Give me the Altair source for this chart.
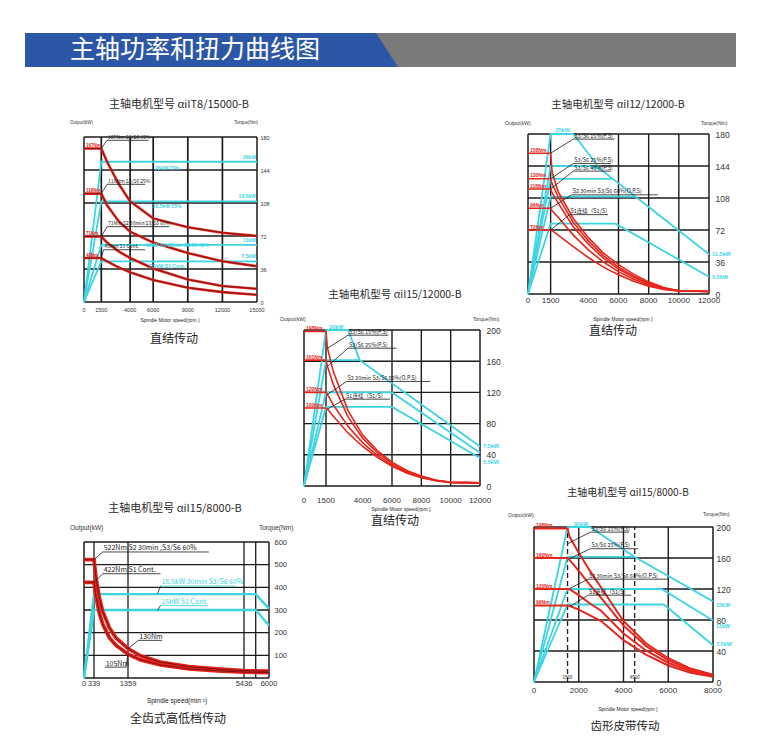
import altair as alt
import pandas as pd

CYAN = "#3cd4e3"
RED = "#e4261d"
DARK_RED = "#7e1010"
INK = "#1b1b1b"
LABEL_C = "#333333"
LATIN = "Liberation Sans"
CJK = "Noto Sans CJK SC"

# ---------------- header ----------------
HEADER_TEXT = "主轴功率和扭力曲线图"
HEADER_BLUE_X = [0, 351, 373]
HEADER_BLUE_TOP = [34, 34, 0]
HEADER_GRAY = [340, 711]

# ---------------- panel 1 : aiIT8/15000-B ----------------
P1_TITLE = "主轴电机型号 αiIT8/15000-B"
P1_CAPTION = "直结传动"
P1_XTITLE = "Spindle Motor speed(rpm )"
P1_XTICKS = [0, 1500, 4000, 6000, 9000, 12000, 15000]
P1_YTICKS = [0, 6, 12, 18, 24, 30]
P1_TTICKS = [0, 36, 72, 108, 144, 180]
P1_XGRID = [1500, 4000, 6000, 9000, 12000]
P1_YGRID = [6, 12, 18, 24]
P1_RED_SPEED = [0, 1500, 2000, 3000, 4000, 6000, 9000, 12000, 15000]
P1_RED = [
    [27.9, 27.9, 25.5, 21.5, 18.3, 15.2, 13.6, 12.6, 12.0],
    [19.7, 19.7, 17.6, 14.7, 12.8, 10.8, 8.9, 7.4, 6.5],
    [11.9, 11.9, 10.8, 9.2, 8.0, 6.1, 4.1, 2.9, 2.4],
    [8.0, 8.0, 7.4, 6.3, 5.4, 4.0, 2.6, 1.8, 1.3],
]
P1_RED_TAGS = ["167Nm", "118Nm", "71Nm", "48Nm"]
P1_CYAN_SPEED = [[0, 1500, 15000], [0, 1500, 15000], [0, 1500, 15000], [0, 1500, 15000]]
P1_CYAN = [[0, 25.5, 25.5], [0, 18.3, 18.3], [0, 10.4, 10.4], [0, 7.4, 7.4]]
P1_CYAN_LABELS = [
    (14900, 26.4, "26kW", "right"), (14900, 19.2, "18.5kW", "right"),
    (14900, 11.3, "11kW", "right"), (14900, 8.3, "7.5kW", "right"),
    (7200, 24.4, "26kW 15%", "center"), (7200, 17.4, "18.5kW 25%", "center"),
    (8100, 10.4, "11kW S2 30min S3/S6 60%", "center"), (7200, 6.6, "7.5kW S1 Cont.", "center"),
]
P1_ANN = [
    (1500, 27.9, 2000, 29.4, 2000, 5600, "167Nm S3/S6 15%", INK),
    (1500, 19.7, 2000, 21.4, 2000, 5300, "118Nm S3/S6 25%", INK),
    (1500, 11.9, 2000, 13.7, 2000, 7400, "71Nm S2 30min S3/S6 60%", INK),
    (1500, 8.0, 1700, 9.5, 1700, 5300, "48Nm S1 Cont.", INK),
]

# ---------------- panel 2 : aiI12/12000-B ----------------
P2_TITLE = "主轴电机型号 αiI12/12000-B"
P2_CAPTION = "直结传动"
P2_XTICKS = [0, 1500, 4000, 6000, 8000, 10000, 12000]
P2_YTICKS = [0, 5, 10, 15, 20, 25]
P2_TTICKS = [0, 36, 72, 108, 144, 180]
P2_XGRID = [1500, 6000, 8000, 10000]
P2_YGRID = [5, 10, 15, 20]
P2_RED_SPEED = [0, 1500, 1600, 2000, 3000, 4000, 5000, 6000, 7000, 8000, 9000, 10000, 12000]
P2_RED = [
    [22, 22, 19.0, 16.0, 11.8, 8.8, 6.4, 4.6, 3.1, 1.9, 1.0, 0.5, 0.4],
    [18, 18, 17.2, 15.2, 11.2, 8.3, 6.0, 4.2, 2.8, 1.7, 0.9, 0.5, 0.4],
    [16.4, 16.4, 15.8, 14.2, 10.5, 7.8, 5.6, 3.9, 2.6, 1.6, 0.9, 0.5, 0.4],
    [13.4, 13.4, 13.0, 12.0, 9.2, 6.9, 5.0, 3.5, 2.3, 1.4, 0.8, 0.5, 0.4],
    [10, 10, 9.9, 9.2, 7.4, 5.7, 4.2, 3.0, 2.0, 1.2, 0.7, 0.45, 0.4],
]
P2_RED_TAGS = ["158Nm", "130Nm", "118Nm", "96Nm", "72Nm"]
P2_CYAN_SPEED = [[0, 1500, 3000, 4800, 12000], [0, 1500, 4000, 4800], [0, 1500, 5600],
                 [0, 1500, 7100], [0, 1500, 5800, 12000]]
P2_CYAN = [[0, 25, 25, 19.5, 6.2], [0, 20, 20, 19.5], [0, 18, 18],
           [0, 15.2, 15.2], [0, 11, 11, 2.7]]
P2_CYAN_LABELS = [(12000, 6.2, "11.5kW", "left"), (12000, 2.7, "5.5kW", "left"),
                  (2300, 25.6, "25kW", "center")]
P2_ANN = [
    (1500, 22, 3000, 24.2, 3000, 5750, "S3/S6 15%(P.S)", INK),
    (1500, 18, 3000, 20.4, 3000, 5500, "S3/S6 25%(P.S)", INK),
    (1500, 16.4, 3000, 19.2, 3000, 5500, "S3/S6 40%(P.S)", INK),
    (1500, 13.4, 2900, 15.5, 2900, 8600, "S2 30min S3/S6 60%(O.P.S)", INK),
    (1500, 10, 2750, 12.4, 2750, 5300, "S1连续（S1/S）", INK),
]

# ---------------- panel 3 : aiI15/12000-B ----------------
P3_TITLE = "主轴电机型号 αiI15/12000-B"
P3_CAPTION = "直结传动"
P3_XTICKS = [0, 1500, 4000, 6000, 8000, 10000, 12000]
P3_YTICKS = [0, 6, 12, 18, 24, 30]
P3_TTICKS = [0, 40, 80, 120, 160, 200]
P3_XGRID = [1500, 6000, 8000, 10000]
P3_YGRID = [6, 12, 18, 24]
P3_RED_SPEED = [0, 1500, 1600, 2000, 3000, 4000, 5000, 6000, 7000, 8000, 9000, 10000, 12000]
P3_RED = [
    [29.7, 29.7, 26.5, 22.0, 14.5, 9.8, 6.8, 4.6, 3.0, 1.9, 1.1, 0.7, 0.6],
    [24.2, 24.2, 23.0, 19.5, 13.3, 9.2, 6.4, 4.3, 2.8, 1.8, 1.1, 0.7, 0.6],
    [18, 18, 17.6, 15.6, 11.5, 8.3, 5.9, 4.0, 2.6, 1.7, 1.0, 0.7, 0.6],
    [15, 15, 14.8, 13.4, 10.2, 7.6, 5.5, 3.8, 2.5, 1.6, 1.0, 0.7, 0.6],
]
P3_RED_TAGS = ["198Nm", "161Nm", "120Nm", "100Nm"]
P3_CYAN_SPEED = [[0, 1500, 3000, 3800, 12000], [0, 1500, 3800], [0, 1500, 6000, 12000],
                 [0, 1500, 6000, 12000]]
P3_CYAN = [[0, 30, 30, 24.2, 7.6], [0, 24.2, 24.2], [0, 18, 18, 6.4], [0, 15.2, 15.2, 5.4]]
P3_CYAN_LABELS = [(12000, 7.6, "7.5kW", "left"), (12000, 4.7, "5.5kW", "left"),
                  (2200, 30.6, "30kW", "center")]
P3_ANN = [
    (1600, 26.5, 3000, 29.0, 3000, 5750, "S3/S6 15%(P.S)", INK),
    (1600, 23.0, 3000, 26.5, 3000, 6300, "S3/S6 25%(P.S)", INK),
    (1600, 17.6, 2900, 20.1, 2900, 8600, "S2 30min S3/S6 60%(O.P.S)", INK),
    (1600, 14.8, 2800, 16.7, 2800, 5850, "S1连续（S1/S）", INK),
]

# ---------------- panel 4 : aiI15/8000-B (gear) ----------------
P4_TITLE = "主轴电机型号 αiI15/8000-B"
P4_CAPTION = "全齿式高低档传动"
P4_XTITLE = "Spindle speed(min⁻¹)"
P4_XTICKS = [0, 339, 1359, 5436, 6000]
P4_XRANGE = [0, 10, 44, 160, 185]
P4_YTICKS = [0, 5, 10, 15, 20, 25, 30]
P4_TTICKS = [100, 200, 300, 400, 500, 600]
P4_XGRID = [339, 1359, 5436, 5700]
P4_YGRID = [5, 10, 15, 20, 25]
P4_RED_SPEED = [0, 339, 400, 500, 600, 800, 1000, 1359, 1800, 2500, 3500, 4500, 5436, 6000]
P4_RED = [
    [26.1, 26.1, 22.1, 17.7, 14.7, 11.1, 8.85, 6.5, 4.9, 3.5, 2.5, 2.0, 1.6, 1.5],
    [21.1, 21.1, 17.9, 14.3, 11.9, 8.9, 7.2, 5.25, 4.0, 2.9, 2.0, 1.6, 1.3, 1.2],
]
P4_CYAN_SPEED = [[0, 339, 5700, 6000], [0, 339, 5700, 6000]]
P4_CYAN = [[0, 18.5, 18.5, 15.3], [0, 15, 15, 11.6]]
P4_ANN = [
    (339, 26.1, 600, 27.8, 600, 4200, "522Nm S2 30min ,S3/S6 60%", INK),
    (339, 21.1, 600, 23.0, 600, 2500, "422Nm S1 Cont.", INK),
    (1359, 6.5, 1720, 8.3, 1720, 2560, "130Nm", INK),
    (1359, 5.25, 1300, 2.4, 660, 1300, "105Nm", INK),
    (2400, 18.6, 2500, 20.3, 2500, 5130, "18.5kW 30min S3/S6 60%", CYAN),
    (2400, 14.9, 2500, 16.0, 2500, 4180, "15kW S1 Cont.", CYAN),
]

# ---------------- panel 5 : aiI15/8000-B (belt) ----------------
P5_TITLE = "主轴电机型号 αiI15/8000-B"
P5_CAPTION = "齿形皮带传动"
P5_XTICKS = [0, 2000, 4000, 6000, 8000]
P5_YTICKS = [0, 6, 12, 18, 24, 30]
P5_TTICKS = [0, 40, 80, 120, 160, 200]
P5_XGRID = [2000, 4000, 6000]
P5_DASH = [1500, 4500]
P5_YGRID = [6, 12, 18, 24]
P5_RED_SPEED = [0, 1500, 1600, 2000, 2500, 3000, 4000, 5000, 6000, 7000, 8000]
P5_RED = [
    [29.7, 29.7, 28.0, 25.0, 21.5, 18.3, 11.8, 7.5, 4.6, 2.6, 1.4],
    [24, 24, 23.6, 21.5, 18.8, 16.3, 10.9, 7.0, 4.2, 2.4, 1.3],
    [18, 18, 17.9, 16.8, 15.2, 13.8, 9.4, 6.1, 3.7, 2.1, 1.1],
    [14.8, 14.8, 14.7, 14.0, 12.9, 11.8, 8.1, 5.3, 3.2, 1.8, 1.0],
]
P5_RED_TAGS = ["198Nm", "160Nm", "120Nm", "99Nm"]
P5_CYAN_SPEED = [[0, 1500, 2500, 4500, 8000], [0, 1500, 4500], [0, 1500, 5700, 8000],
                 [0, 1500, 5800, 8000]]
P5_CYAN = [[0, 30, 30, 24.2, 15.6], [0, 24.2, 24.2], [0, 18, 18, 11.9], [0, 15, 15, 7.1]]
P5_CYAN_LABELS = [(8000, 15.0, "15kW", "left"), (8000, 10.8, "11kW", "left"),
                  (8000, 7.3, "7.5kW", "left"), (2100, 30.6, "30kW", "center")]
P5_ANN = [
    (1520, 26.8, 2520, 29.0, 2520, 4250, "S3/S6 15%(P.S)", INK),
    (1600, 23.9, 2520, 25.8, 2520, 4650, "S3/S6 25%(P.S)", INK),
    (1600, 18.1, 2410, 19.9, 2410, 5990, "S2 30min S3/S6 60%(O.P.S)", INK),
    (1600, 14.6, 2410, 16.8, 2410, 4350, "S1连续（S1/S）", INK),
]
P5_DASH_TAGS = [(1500, 0.8, "1500"), (4500, 0.8, "4500")]

ONE = pd.DataFrame({"k": [0]})


def curves_df(speeds, values):
    rows = []
    for cid, (xs, ys) in enumerate(zip(speeds, values)):
        for i, (x, y) in enumerate(zip(xs, ys)):
            rows.append({"id": cid, "i": i, "x": x, "y": y})
    return pd.DataFrame(rows)


def fixed_text(text, px, py, size, align="center", font=LATIN, color=LABEL_C, weight="normal"):
    return alt.Chart(ONE).mark_text(text=text, fontSize=size, align=align, baseline="middle",
                                    font=font, color=color, fontWeight=weight).encode(
        x=alt.value(px), y=alt.value(py))


def panel(p):
    W, H = p["W"], p["H"]
    el, et = p.get("ext_left", 0), p.get("ext_top", 0)
    x_lo, x_hi = p["xdom"][0], p["xdom"][-1]
    ymax, tmax = p["ymax"], p["tmax"]
    if p.get("xrange"):
        sx = alt.Scale(domain=p["xdom"], range=p["xrange"], nice=False, zero=False)
    else:
        lo = x_lo - (x_hi - x_lo) * el / W
        sx = alt.Scale(domain=[lo, x_hi], nice=False, zero=False)
    sy = alt.Scale(domain=[0, ymax * (H + et) / H], nice=False, zero=False)

    def ex(f):
        return alt.X(f + ":Q", scale=sx, axis=None)

    def ey(f):
        return alt.Y(f + ":Q", scale=sy, axis=None)

    L = []
    axis_df = pd.DataFrame({"x": [x_lo, x_hi], "y": [0, ymax]})
    L.append(alt.Chart(axis_df).mark_point(opacity=0).encode(
        x=ex("x"),
        y=alt.Y("y:Q", scale=sy, axis=alt.Axis(
            values=p["yticks"], grid=False, ticks=False, domain=False, title=None,
            offset=-el,
            labelFont=LATIN, labelFontSize=p["yfs"], labelPadding=p["ypad"], labelColor=LABEL_C,
            labelOverlap=False, labelFlush=False))))
    # x tick labels (speed values)
    xl = pd.DataFrame({"x": p["xticks"], "t": [str(v) for v in p["xticks"]]})
    L.append(alt.Chart(xl).mark_text(align="center", baseline="middle", fontSize=p["xfs"],
                                     font=LATIN, color=LABEL_C).encode(
        x=ex("x"), y=alt.value(H + et + p["xoff"]), text="t:N"))
    # grid (explicit ends so that extensions stay empty)
    vg = pd.DataFrame({"v": p["xgrid"], "a": 0, "b": ymax})
    L.append(alt.Chart(vg).mark_rule(color=INK, strokeWidth=p["gw"]).encode(
        x=ex("v"), y=ey("a"), y2="b:Q"))
    hg = pd.DataFrame({"v": p["ygrid"], "a": x_lo, "b": x_hi})
    L.append(alt.Chart(hg).mark_rule(color=INK, strokeWidth=p["gw"]).encode(
        y=ey("v"), x=ex("a"), x2="b:Q"))
    if p.get("dash"):
        dg = pd.DataFrame({"v": p["dash"], "a": 0, "b": ymax})
        L.append(alt.Chart(dg).mark_rule(color=INK, strokeWidth=1.3, strokeDash=[5, 3]).encode(
            x=ex("v"), y=ey("a"), y2="b:Q"))
    # frame
    vf = pd.DataFrame({"v": [x_lo, x_hi], "a": 0, "b": ymax})
    L.append(alt.Chart(vf).mark_rule(color=INK, strokeWidth=p["fw"]).encode(
        x=ex("v"), y=ey("a"), y2="b:Q"))
    hf = pd.DataFrame({"v": [0, ymax], "a": x_lo, "b": x_hi})
    L.append(alt.Chart(hf).mark_rule(color=INK, strokeWidth=p["fw"]).encode(
        y=ey("v"), x=ex("a"), x2="b:Q"))
    # cyan curves
    cdf = curves_df(p["cyan_speed"], p["cyan"])
    L.append(alt.Chart(cdf).mark_line(color=CYAN, strokeWidth=p["cw"]).encode(
        x=ex("x"), y=ey("y"), detail="id:N", order="i:Q"))
    # red curves
    rdf = curves_df([p["red_speed"]] * len(p["red"]), p["red"])
    L.append(alt.Chart(rdf).mark_line(color=RED, strokeWidth=p["rw"]).encode(
        x=ex("x"), y=ey("y"), detail="id:N", order="i:Q"))
    if p.get("core"):
        L.append(alt.Chart(rdf).mark_line(color=DARK_RED, strokeWidth=p["core"]).encode(
            x=ex("x"), y=ey("y"), detail="id:N", order="i:Q"))
    # annotations
    adf = pd.DataFrame(p["ann"], columns=["x0", "y0", "lx", "ly", "xa", "xb", "t", "c"])
    L.append(alt.Chart(adf).mark_rule(color=INK, strokeWidth=0.8).encode(
        x=ex("x0"), y=ey("y0"), x2="lx:Q", y2="ly:Q"))
    L.append(alt.Chart(adf).mark_rule(strokeWidth=0.8).encode(
        x=ex("xa"), x2="xb:Q", y=ey("ly"), color=alt.Color("c:N", scale=None)))
    L.append(alt.Chart(adf).mark_text(align="left", baseline="bottom", dy=-0.5, dx=1,
                                      fontSize=p["afs"], font=CJK).encode(
        x=ex("xa"), y=ey("ly"), text="t:N", color=alt.Color("c:N", scale=None)))
    # red level tags
    if p.get("red_tags"):
        tdf = pd.DataFrame({"x": [x_lo] * len(p["red_tags"]),
                            "y": [r[0] for r in p["red"]], "t": p["red_tags"]})
        L.append(alt.Chart(tdf).mark_text(align="left", baseline="bottom", dx=2, dy=-0.5,
                                          fontSize=p["afs"] - 0.5, color=RED, fontWeight="bold",
                                          font=LATIN).encode(x=ex("x"), y=ey("y"), text="t:N"))
    # cyan labels
    for al in ("left", "center", "right"):
        rows = [r[:3] for r in p.get("cyan_labels", []) if r[3] == al]
        if rows:
            cl = pd.DataFrame(rows, columns=["x", "y", "t"])
            L.append(alt.Chart(cl).mark_text(
                align=al, baseline="middle", dx=3 if al == "left" else 0,
                fontSize=p["afs"], color=CYAN, fontWeight="bold", font=LATIN).encode(
                x=ex("x"), y=ey("y"), text="t:N"))
    if p.get("dash_tags"):
        dt = pd.DataFrame(p["dash_tags"], columns=["x", "y", "t"])
        L.append(alt.Chart(dt).mark_text(align="center", baseline="middle", fontSize=4.5,
                                          color=LABEL_C, font=LATIN).encode(
            x=ex("x"), y=ey("y"), text="t:N"))
    # fixed texts (titles, axis titles, caption), positions relative to the frame corner
    tx, ty = p["title_pos"]
    L.append(fixed_text(p["title"], tx + el, ty + et, p["tfs"], font=CJK, color="#2a2a2a"))
    ox, oy = p["out_pos"]
    L.append(fixed_text("Output(kW)", ox + el, oy + et, p["afs"] - 0.5, align="left"))
    qx, qy, qa = p["torq_pos"]
    L.append(fixed_text("Torque(Nm)", qx + el, qy + et, p["afs"] - 0.5, align=qa))
    sx_, sy_ = p["xtitle_pos"]
    L.append(fixed_text(p["xtitle"], sx_ + el, sy_ + et, p["xtfs"], color="#222"))
    cx, cy = p["cap_pos"]
    L.append(fixed_text(p["caption"], cx + el, cy + et, p["cfs"], font=CJK, color="#222"))

    right = alt.Chart(pd.DataFrame({"t": [0, tmax]})).mark_point(opacity=0).encode(
        y=alt.Y("t:Q", scale=alt.Scale(domain=[0, tmax * (H + et) / H], nice=False, zero=False),
                axis=alt.Axis(orient="right", values=p["tticks"], grid=False, ticks=False,
                              domain=False, title=None, labelFont=LATIN,
                              labelFontSize=p["tfs_r"], labelPadding=p["tpad"],
                              labelColor=LABEL_C, labelOverlap=False, labelFlush=False)))
    return alt.layer(alt.layer(*L), right).resolve_scale(y="independent").properties(
        width=W + el, height=H + et)


common = dict(gw=1.4, fw=1.5, cw=1.8, rw=1.6)

P1 = dict(common, W=173, H=165, ext_top=3, xdom=[0, 15000], ymax=30, tmax=180,
          xticks=P1_XTICKS, yticks=P1_YTICKS, tticks=P1_TTICKS, xgrid=P1_XGRID, ygrid=P1_YGRID,
          red_speed=P1_RED_SPEED, red=P1_RED, red_tags=P1_RED_TAGS,
          cyan_speed=P1_CYAN_SPEED, cyan=P1_CYAN, cyan_labels=P1_CYAN_LABELS, ann=P1_ANN,
          xfs=5.5, xoff=8, yfs=5.5, ypad=9, tfs_r=5.5, tpad=3, afs=5, rw=2.6, core=0.9, gw=1.7,
          title=P1_TITLE, title_pos=(95, -32), tfs=11, out_pos=(-14, -14),
          torq_pos=(174, -14, "right"), xtitle=P1_XTITLE, xtitle_pos=(86, 183), xtfs=5,
          caption=P1_CAPTION, cap_pos=(90, 202), cfs=12)

P2 = dict(common, W=181, H=160, xdom=[0, 12000], ymax=25, tmax=180,
          xticks=P2_XTICKS, yticks=P2_YTICKS, tticks=P2_TTICKS, xgrid=P2_XGRID, ygrid=P2_YGRID,
          red_speed=P2_RED_SPEED, red=P2_RED, red_tags=P2_RED_TAGS,
          cyan_speed=P2_CYAN_SPEED, cyan=P2_CYAN, cyan_labels=P2_CYAN_LABELS, ann=P2_ANN,
          xfs=8, xoff=7, yfs=9, ypad=14, tfs_r=8.5, tpad=6, afs=5.5,
          title=P2_TITLE, title_pos=(90, -29), tfs=10.5, out_pos=(-23, -11),
          torq_pos=(173, -11, "left"), xtitle=P1_XTITLE, xtitle_pos=(95, 185), xtfs=5,
          caption=P2_CAPTION, cap_pos=(85, 197), cfs=12)

P3 = dict(common, W=176, H=156, xdom=[0, 12000], ymax=30, tmax=200,
          xticks=P3_XTICKS, yticks=P3_YTICKS, tticks=P3_TTICKS, xgrid=P3_XGRID, ygrid=P3_YGRID,
          red_speed=P3_RED_SPEED, red=P3_RED, red_tags=P3_RED_TAGS,
          cyan_speed=P3_CYAN_SPEED, cyan=P3_CYAN, cyan_labels=P3_CYAN_LABELS, ann=P3_ANN,
          xfs=8, xoff=15, yfs=9, ypad=9, tfs_r=8.5, tpad=6, afs=5.5,
          title=P3_TITLE, title_pos=(91, -35), tfs=10.5, out_pos=(-24, -11),
          torq_pos=(169, -11, "left"), xtitle=P1_XTITLE, xtitle_pos=(97, 179), xtfs=5,
          caption=P3_CAPTION, cap_pos=(91, 191), cfs=12)

P4 = dict(common, W=185, H=136, ext_top=15, xdom=[0, 339, 1359, 5436, 6000], xrange=P4_XRANGE,
          ymax=30, tmax=600,
          xticks=P4_XTICKS, yticks=P4_YTICKS, tticks=P4_TTICKS, xgrid=P4_XGRID, ygrid=P4_YGRID,
          red_speed=P4_RED_SPEED, red=P4_RED,
          cyan_speed=P4_CYAN_SPEED, cyan=P4_CYAN, ann=P4_ANN,
          xfs=7.5, xoff=6, yfs=7.5, ypad=3, tfs_r=7.5, tpad=5, afs=7, rw=3.8, core=1.0, cw=2.4,
          gw=1.3,
          title=P4_TITLE, title_pos=(91, -33), tfs=11, out_pos=(-14, -14),
          torq_pos=(175, -14, "left"), xtitle=P4_XTITLE, xtitle_pos=(93, 159), xtfs=6.5,
          caption=P4_CAPTION, cap_pos=(94, 177), cfs=12)

P5 = dict(common, W=179, H=155, ext_left=6, xdom=[0, 8000], ymax=30, tmax=200,
          xticks=P5_XTICKS, yticks=P5_YTICKS, tticks=P5_TTICKS, xgrid=P5_XGRID, ygrid=P5_YGRID,
          dash=P5_DASH, dash_tags=P5_DASH_TAGS,
          red_speed=P5_RED_SPEED, red=P5_RED, red_tags=P5_RED_TAGS,
          cyan_speed=P5_CYAN_SPEED, cyan=P5_CYAN, cyan_labels=P5_CYAN_LABELS, ann=P5_ANN,
          xfs=8, xoff=9, yfs=9, ypad=9, tfs_r=8.5, tpad=3, afs=5.5, rw=2.0,
          title=P5_TITLE, title_pos=(94, -34), tfs=10, out_pos=(-26, -12),
          torq_pos=(169, -13, "left"), xtitle=P1_XTITLE, xtitle_pos=(94, 182), xtfs=5,
          caption=P5_CAPTION, cap_pos=(91, 200), cfs=11.5)


def spacer(w, h):
    return alt.Chart(ONE).mark_point(opacity=0).encode(
        x=alt.value(0), y=alt.value(0)).properties(width=w, height=h)


# header band
hx = alt.Scale(domain=[0, 711], nice=False, zero=False)
hy = alt.Scale(domain=[0, 34], nice=False, zero=False)
gray_df = pd.DataFrame({"x0": [HEADER_GRAY[0]], "x1": [HEADER_GRAY[1]], "y0": [0], "y1": [34]})
blue_df = pd.DataFrame({"x": HEADER_BLUE_X, "top": HEADER_BLUE_TOP, "bot": [0, 0, 0]})
header = alt.layer(
    alt.Chart(gray_df).mark_rect(color="#7a7a7a").encode(
        x=alt.X("x0:Q", scale=hx, axis=None), x2="x1:Q",
        y=alt.Y("y0:Q", scale=hy, axis=None), y2="y1:Q"),
    alt.Chart(blue_df).mark_area(color="#2c56a6").encode(
        x=alt.X("x:Q", scale=hx, axis=None), y=alt.Y("top:Q", scale=hy, axis=None), y2="bot:Q"),
    fixed_text(HEADER_TEXT, 45, 17, 25, align="left", font=CJK, color="white"),
).properties(width=711, height=34)

c1, c2, c3, c4, c5 = panel(P1), panel(P2), panel(P3), panel(P4), panel(P5)

# 4-column grid of leaf views (spacers fix the column widths and row heights)
grid = alt.concat(
    spacer(24, 1), c1, spacer(189, 1), c2,
    spacer(24, 169), spacer(1, 1), c3, spacer(1, 1),
    spacer(24, 1), c4, spacer(1, 1), c5,
    columns=4, spacing={"row": 28, "column": 35}, bounds="flush", align="each",
)

chart = alt.vconcat(header, grid, spacing=67, bounds="flush").properties(
    padding={"left": 14, "top": 25, "right": 5, "bottom": 5}
).configure_view(stroke=None)

chart.save("out.html", embed_options={"renderer": "svg", "actions": False})
